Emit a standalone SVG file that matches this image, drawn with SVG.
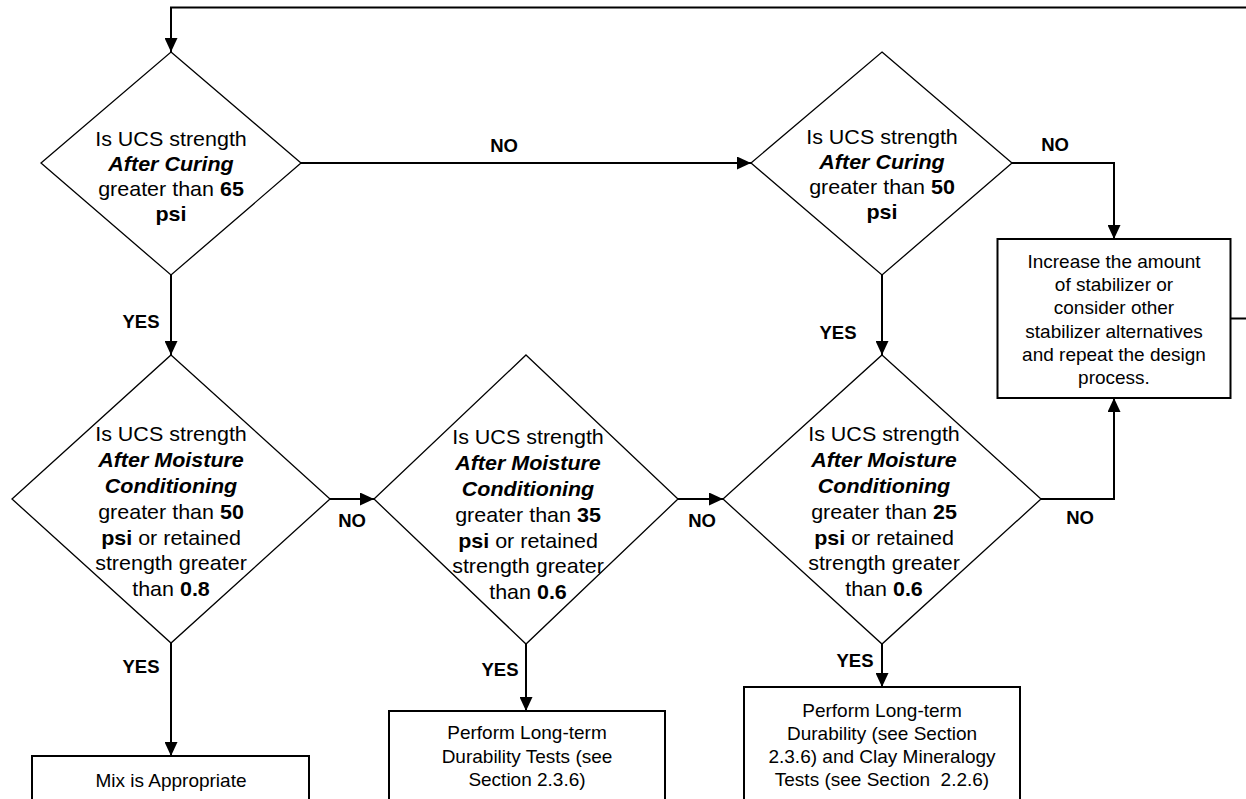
<svg xmlns="http://www.w3.org/2000/svg" width="1246" height="799" viewBox="0 0 1246 799">
<style>
.dia{fill:#fff;stroke:#000;stroke-width:1.3}
.box{fill:#fff;stroke:#000;stroke-width:2}
.con{fill:none;stroke:#000;stroke-width:2}
.dt{font-family:"Liberation Sans",Arial,sans-serif;font-size:20px;text-anchor:middle;fill:#000}
.bt{font-family:"Liberation Sans",Arial,sans-serif;font-size:19px;text-anchor:middle;fill:#000}
.lb{font-family:"Liberation Sans",Arial,sans-serif;font-size:18.5px;font-weight:bold;text-anchor:middle;fill:#000}
.b{font-weight:bold}
.bi{font-weight:bold;font-style:italic}
</style>
<defs>
<marker id="arr" viewBox="0 0 14 13" refX="14" refY="6.5" markerWidth="14" markerHeight="13" orient="auto" markerUnits="userSpaceOnUse"><path d="M0,0 L14,6.5 L0,13 z" fill="#000"/></marker>
</defs>
<rect width="1246" height="799" fill="#fff"/>
<g id="connectors">
<path class="con" d="M1246,7.5 H171 V52" marker-end="url(#arr)"/>
<path class="con" d="M1231,318.5 H1246"/>
<path class="con" d="M301,163 H751" marker-end="url(#arr)"/>
<path class="con" d="M1012,163 H1114 V239" marker-end="url(#arr)"/>
<path class="con" d="M882,275 V355" marker-end="url(#arr)"/>
<path class="con" d="M171,275 V355" marker-end="url(#arr)"/>
<path class="con" d="M330,499 H374" marker-end="url(#arr)"/>
<path class="con" d="M678,499 H723" marker-end="url(#arr)"/>
<path class="con" d="M1041,499 H1114 V398" marker-end="url(#arr)"/>
<path class="con" d="M171,643 V756" marker-end="url(#arr)"/>
<path class="con" d="M526,644 V711" marker-end="url(#arr)"/>
<path class="con" d="M882,644 V687" marker-end="url(#arr)"/>
<text class="lb" x="504" y="152">NO</text>
<text class="lb" x="1055" y="151">NO</text>
<text class="lb" x="141" y="328">YES</text>
<text class="lb" x="838" y="339">YES</text>
<text class="lb" x="352" y="527">NO</text>
<text class="lb" x="702" y="527">NO</text>
<text class="lb" x="1080" y="524">NO</text>
<text class="lb" x="141" y="673">YES</text>
<text class="lb" x="500" y="676">YES</text>
<text class="lb" x="855" y="667">YES</text>
</g>
<g id="d1">
<polygon class="dia" points="171,52 301,163 171,275 41,163"/>
<g transform="translate(171,0) scale(1.075,1)">
<text class="dt" x="0" y="146">Is UCS strength</text>
<text class="dt bi" x="0" y="171">After Curing</text>
<text class="dt" x="0" y="196">greater than <tspan class="b">65</tspan></text>
<text class="dt b" x="0" y="221">psi</text>
</g>
</g>
<g id="d2">
<polygon class="dia" points="882,52 1012,163 882,275 751,163"/>
<g transform="translate(882,0) scale(1.075,1)">
<text class="dt" x="0" y="144">Is UCS strength</text>
<text class="dt bi" x="0" y="169">After Curing</text>
<text class="dt" x="0" y="194">greater than <tspan class="b">50</tspan></text>
<text class="dt b" x="0" y="219">psi</text>
</g>
</g>
<g id="boxA">
<rect class="box" x="997.5" y="239" width="233" height="159"/>
<text class="bt" x="1114" y="268">Increase the amount</text>
<text class="bt" x="1114" y="291">of stabilizer or</text>
<text class="bt" x="1114" y="314">consider other</text>
<text class="bt" x="1114" y="337.5">stabilizer alternatives</text>
<text class="bt" x="1114" y="361">and repeat the design</text>
<text class="bt" x="1114" y="384">process.</text>
</g>
<g id="d3">
<polygon class="dia" points="171,355 330,499 171,643 12,499"/>
<g transform="translate(171,0) scale(1.075,1)">
<text class="dt" x="0" y="441">Is UCS strength</text>
<text class="dt bi" x="0" y="467">After Moisture</text>
<text class="dt bi" x="0" y="493">Conditioning</text>
<text class="dt" x="0" y="519">greater than <tspan class="b">50</tspan></text>
<text class="dt" x="0" y="545"><tspan class="b">psi</tspan> or retained</text>
<text class="dt" x="0" y="570">strength greater</text>
<text class="dt" x="0" y="596">than <tspan class="b">0.8</tspan></text>
</g>
</g>
<g id="d4">
<polygon class="dia" points="526,355 678,499 526,644 374,499"/>
<g transform="translate(528,0) scale(1.075,1)">
<text class="dt" x="0" y="444">Is UCS strength</text>
<text class="dt bi" x="0" y="470">After Moisture</text>
<text class="dt bi" x="0" y="496">Conditioning</text>
<text class="dt" x="0" y="522">greater than <tspan class="b">35</tspan></text>
<text class="dt" x="0" y="548"><tspan class="b">psi</tspan> or retained</text>
<text class="dt" x="0" y="573">strength greater</text>
<text class="dt" x="0" y="599">than <tspan class="b">0.6</tspan></text>
</g>
</g>
<g id="d5">
<polygon class="dia" points="882,355 1041,499 882,644 723,499"/>
<g transform="translate(884,0) scale(1.075,1)">
<text class="dt" x="0" y="441">Is UCS strength</text>
<text class="dt bi" x="0" y="467">After Moisture</text>
<text class="dt bi" x="0" y="493">Conditioning</text>
<text class="dt" x="0" y="519">greater than <tspan class="b">25</tspan></text>
<text class="dt" x="0" y="545"><tspan class="b">psi</tspan> or retained</text>
<text class="dt" x="0" y="570">strength greater</text>
<text class="dt" x="0" y="596">than <tspan class="b">0.6</tspan></text>
</g>
</g>
<g id="boxMix">
<rect class="box" x="32" y="756" width="277" height="60"/>
<text class="bt" x="171" y="787">Mix is Appropriate</text>
</g>
<g id="boxB">
<rect class="box" x="389" y="711" width="276" height="110"/>
<text class="bt" x="527" y="739">Perform Long-term</text>
<text class="bt" x="527" y="762.5">Durability Tests (see</text>
<text class="bt" x="527" y="786">Section 2.3.6)</text>
</g>
<g id="boxC">
<rect class="box" x="744" y="687" width="276" height="130"/>
<text class="bt" x="882" y="716.5">Perform Long-term</text>
<text class="bt" x="882" y="739.5">Durability (see Section</text>
<text class="bt" x="882" y="762.5">2.3.6) and Clay Mineralogy</text>
<text class="bt" x="882" y="785.5" xml:space="preserve">Tests (see Section  2.2.6)</text>
</g>
</svg>
